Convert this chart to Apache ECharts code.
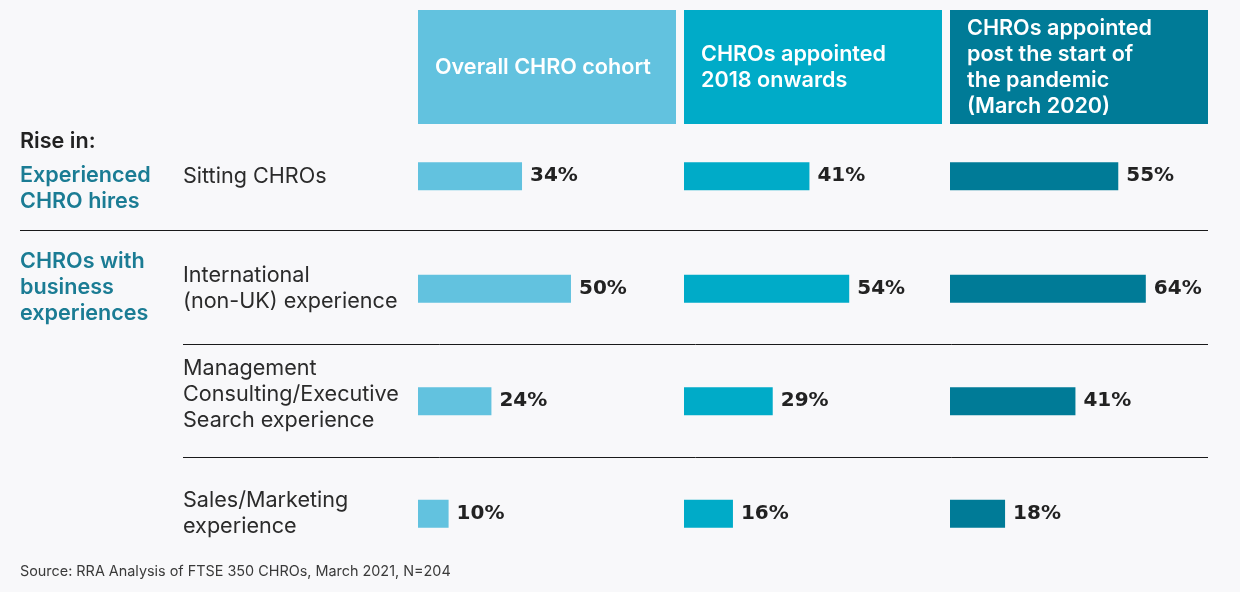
<!DOCTYPE html>
<html>
<head>
<meta charset="utf-8">
<script src="https://cdn.jsdelivr.net/npm/echarts@6/dist/echarts.min.js"></script>
<style>
  html, body { margin: 0; padding: 0; background: #F8F8FA; }
  #chart { width: 1240px; height: 592px; }
</style>
</head>
<body>
<div id="chart"></div>
<script>
// ---- data ----
const categories = [
  'Sitting CHROs',
  'International\n(non-UK) experience',
  'Management\nConsulting/Executive\nSearch experience',
  'Sales/Marketing\nexperience'
];
const cohorts = [
  'Overall CHRO cohort',
  'CHROs appointed\n2018 onwards',
  'CHROs appointed\npost the start of\nthe pandemic\n(March 2020)'
];
const overallCohort = [34, 50, 24, 10];
const appointed2018 = [41, 54, 29, 16];
const appointedPostPandemic = [55, 64, 41, 18];
const groupTitle = 'Rise in:';
const groups = ['Experienced\nCHRO hires', 'CHROs with\nbusiness\nexperiences'];
const sourceText = 'Source: RRA Analysis of FTSE 350 CHROs, March 2021, N=204';

// ---- style ----
const colors = ['#62C2DF', '#00ABC8', '#007B97'];
const panelLeft = [418, 684, 950];
const panelWidth = 258;
const seriesData = [overallCohort, appointed2018, appointedPostPandemic];
const bodyFont = 'Inter, "Noto Sans", sans-serif';
const labelStyle = { fontFamily: bodyFont, fontSize: 21.6, lineHeight: 26, color: '#2B2B2B' };

const chart = echarts.init(document.getElementById('chart'), null, { renderer: 'canvas' });

const grids = panelLeft.map(l => ({ left: l, top: 120, width: 257, height: 450 }));
const xAxes = panelLeft.map((l, i) => ({
  gridIndex: i, type: 'value', min: 0, max: 84, show: false
}));
const yAxes = panelLeft.map((l, i) => ({
  gridIndex: i, type: 'category', data: categories, inverse: true,
  axisLine: { show: false }, axisTick: { show: false }, splitLine: { show: false },
  axisLabel: i === 0 ? Object.assign({
    show: true, align: 'left', margin: 235,
    formatter: (v, idx) => idx === 2
      ? v.split('\n').map(s => '{t|' + s + '}').join('\n') + '\n{sp| }'
      : v,
    rich: { t: Object.assign({}, labelStyle), sp: { fontSize: 4, lineHeight: 14 } }
  }, labelStyle) : { show: false }
}));
const series = seriesData.map((d, i) => ({
  type: 'bar', xAxisIndex: i, yAxisIndex: i, data: d, barWidth: 28,
  itemStyle: { color: colors[i] },
  label: {
    show: true, position: 'right', distance: 8, formatter: '{c}%',
    fontFamily: '"DejaVu Sans", sans-serif', fontWeight: 'bold', fontSize: 20, color: '#222'
  },
  emphasis: { disabled: true }
}));

const graphic = [];
cohorts.forEach((c, i) => {
  graphic.push({
    type: 'rect', left: panelLeft[i], top: 10,
    shape: { width: panelWidth, height: 114 }, style: { fill: colors[i] }, silent: true
  });
  graphic.push({
    type: 'text', x: panelLeft[i] + 17, y: 67,
    style: { text: c, fill: '#fff', font: '600 21.6px ' + bodyFont, textVerticalAlign: 'middle', lineHeight: 26 },
    silent: true
  });
});
graphic.push({ type: 'text', x: 20, y: 141,
  style: { text: groupTitle, fill: '#222', font: '600 21.6px ' + bodyFont, textVerticalAlign: 'middle' } });
graphic.push({ type: 'text', x: 20, y: 188,
  style: { text: groups[0], fill: '#1B7C94', font: '600 21.6px ' + bodyFont, textVerticalAlign: 'middle', lineHeight: 26 } });
graphic.push({ type: 'text', x: 20, y: 287,
  style: { text: groups[1], fill: '#1B7C94', font: '600 21.6px ' + bodyFont, textVerticalAlign: 'middle', lineHeight: 26 } });
[[20, 230.5], [183, 344.5], [183, 457.5]].forEach(([x1, y]) => {
  graphic.push({ type: 'line', shape: { x1: x1, y1: y, x2: 1208, y2: y },
    style: { stroke: '#1A1A1A', lineWidth: 1 }, silent: true });
});
graphic.push({ type: 'text', x: 20, y: 572,
  style: { text: sourceText, fill: '#3A3A3A', font: '14.4px ' + bodyFont, textVerticalAlign: 'middle' } });

chart.setOption({
  backgroundColor: '#F8F8FA',
  animation: false,
  grid: grids, xAxis: xAxes, yAxis: yAxes, series: series, graphic: graphic
});
</script>
</body>
</html>
